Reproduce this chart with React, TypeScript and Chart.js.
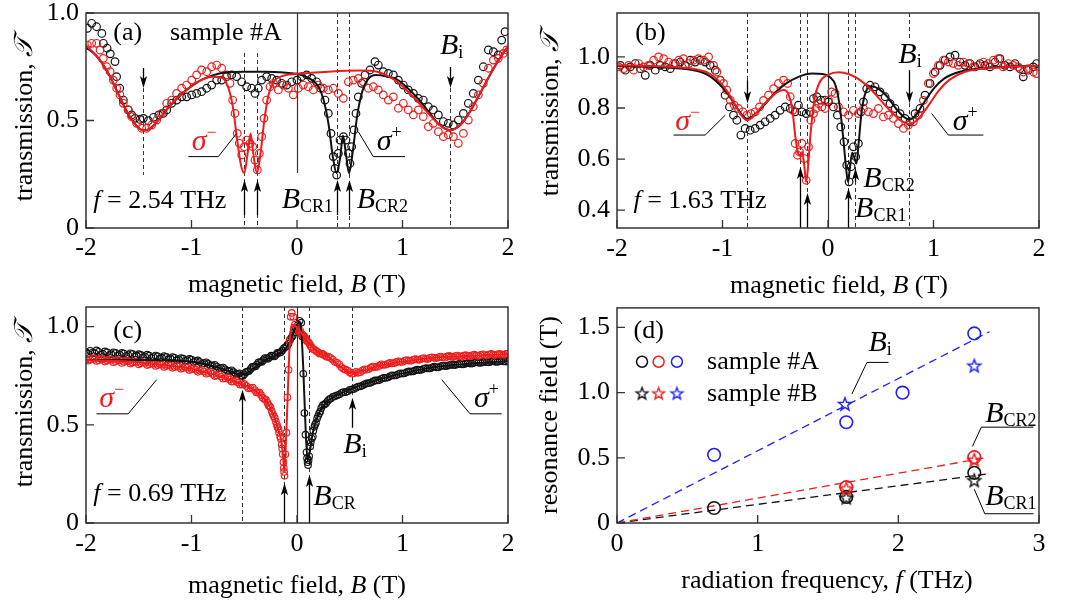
import React, { useEffect, useRef } from "react";
import { Chart, registerables } from "chart.js";

Chart.register(...registerables);

const FONT = "'Liberation Serif', 'Times New Roman', Times, serif";
const RED = "#ee1c1c";
const BLUE = "#1e1eff";
const BLACK = "#111111";
const FRAME = "#333333";

type Pt = [number, number];

// ---------- tick values ----------
const fieldTicks = [-2, -1, 0, 1, 2];
const transTicksA = [0, 0.5, 1.0];
const transTicksB = [0.4, 0.6, 0.8, 1.0];
const transTicksC = [0, 0.5, 1.0];
const freqTicks = [0, 1, 2, 3];
const resTicks = [0, 0.5, 1.0, 1.5];

// ---------- panel (a): f = 2.54 THz ----------
const aSigmaPlusData: Pt[] = [[-1.987,0.929],[-1.946,0.952],[-1.9,0.936],[-1.85,0.905],[-1.835,0.859],[-1.8,0.836],[-1.77,0.81],[-1.725,0.774],[-1.71,0.704],[-1.68,0.65],[-1.646,0.595],[-1.6,0.549],[-1.567,0.526],[-1.535,0.51],[-1.488,0.505],[-1.456,0.51],[-1.409,0.499],[-1.36,0.515],[-1.31,0.526],[-1.267,0.533],[-1.235,0.549],[-1.188,0.58],[-1.14,0.595],[-1.093,0.61],[-1.046,0.61],[-0.998,0.619],[-0.951,0.626],[-0.904,0.634],[-0.856,0.65],[-0.809,0.665],[-0.761,0.688],[-0.714,0.688],[-0.667,0.704],[-0.619,0.712],[-0.572,0.704],[-0.524,0.68],[-0.477,0.657],[-0.43,0.65],[-0.398,0.626],[-0.367,0.65],[-0.335,0.688],[-0.288,0.704],[-0.24,0.696],[-0.193,0.688],[-0.145,0.673],[-0.098,0.665],[-0.05,0.68],[0.0,0.688],[0.044,0.704],[0.092,0.712],[0.139,0.696],[0.186,0.68],[0.224,0.65],[0.265,0.595],[0.297,0.533],[0.322,0.44],[0.344,0.332],[0.36,0.277],[0.376,0.246],[0.392,0.347],[0.408,0.409],[0.44,0.425],[0.464,0.409],[0.487,0.347],[0.502,0.3],[0.518,0.378],[0.54,0.456],[0.559,0.533],[0.581,0.61],[0.613,0.673],[0.645,0.712],[0.692,0.735],[0.739,0.774],[0.771,0.758],[0.818,0.727],[0.866,0.719],[0.913,0.712],[0.961,0.688],[1.008,0.665],[1.055,0.642],[1.103,0.626],[1.15,0.603],[1.197,0.595],[1.245,0.564],[1.292,0.549],[1.34,0.526],[1.387,0.495],[1.434,0.487],[1.482,0.479],[1.529,0.502],[1.577,0.533],[1.624,0.58],[1.671,0.626],[1.719,0.688],[1.766,0.75],[1.814,0.828],[1.861,0.82],[1.908,0.805],[1.94,0.874],[1.972,0.913]];
const aSigmaMinusData: Pt[] = [[-1.987,0.851],[-1.946,0.859],[-1.9,0.859],[-1.867,0.828],[-1.836,0.789],[-1.804,0.75],[-1.772,0.727],[-1.741,0.688],[-1.709,0.65],[-1.678,0.619],[-1.646,0.58],[-1.599,0.549],[-1.567,0.518],[-1.52,0.487],[-1.472,0.464],[-1.425,0.464],[-1.378,0.479],[-1.33,0.502],[-1.283,0.533],[-1.235,0.58],[-1.188,0.595],[-1.141,0.626],[-1.093,0.65],[-1.046,0.665],[-0.998,0.688],[-0.951,0.712],[-0.904,0.735],[-0.856,0.727],[-0.809,0.75],[-0.761,0.758],[-0.714,0.743],[-0.667,0.712],[-0.635,0.673],[-0.61,0.595],[-0.588,0.533],[-0.566,0.44],[-0.547,0.394],[-0.524,0.34],[-0.499,0.378],[-0.477,0.409],[-0.445,0.394],[-0.42,0.378],[-0.398,0.316],[-0.376,0.27],[-0.357,0.347],[-0.335,0.425],[-0.313,0.51],[-0.288,0.595],[-0.256,0.657],[-0.224,0.673],[-0.177,0.642],[-0.13,0.665],[-0.082,0.65],[-0.035,0.619],[0.013,0.65],[0.06,0.665],[0.107,0.657],[0.155,0.642],[0.202,0.665],[0.25,0.65],[0.297,0.642],[0.344,0.65],[0.392,0.626],[0.439,0.603],[0.487,0.68],[0.534,0.688],[0.581,0.696],[0.629,0.68],[0.676,0.65],[0.724,0.657],[0.771,0.642],[0.818,0.619],[0.866,0.595],[0.913,0.61],[0.961,0.557],[1.008,0.58],[1.055,0.549],[1.103,0.526],[1.15,0.549],[1.197,0.518],[1.245,0.471],[1.292,0.487],[1.34,0.448],[1.387,0.425],[1.434,0.433],[1.482,0.425],[1.529,0.394],[1.577,0.44],[1.624,0.502],[1.671,0.564],[1.719,0.619],[1.766,0.673],[1.814,0.743],[1.861,0.781],[1.908,0.789],[1.956,0.812],[1.987,0.828]];
const aSigmaPlusFit: Pt[] = [[-2,0.84],[-1.9,0.8],[-1.8,0.73],[-1.7,0.63],[-1.6,0.53],[-1.5,0.465],[-1.46,0.455],[-1.4,0.46],[-1.3,0.51],[-1.2,0.57],[-1.1,0.62],[-1.0,0.66],[-0.9,0.69],[-0.8,0.71],[-0.7,0.722],[-0.5,0.727],[-0.3,0.727],[-0.1,0.722],[0,0.717],[0.1,0.7],[0.2,0.66],[0.25,0.6],[0.3,0.48],[0.34,0.33],[0.376,0.255],[0.41,0.33],[0.435,0.43],[0.465,0.34],[0.493,0.255],[0.53,0.36],[0.57,0.52],[0.61,0.62],[0.67,0.69],[0.75,0.712],[0.85,0.705],[0.95,0.69],[1.05,0.65],[1.15,0.6],[1.25,0.54],[1.35,0.48],[1.45,0.455],[1.55,0.48],[1.65,0.55],[1.75,0.64],[1.85,0.73],[1.95,0.81],[2.0,0.84]];
const aSigmaMinusFit: Pt[] = [[-2,0.85],[-1.9,0.8],[-1.8,0.73],[-1.7,0.63],[-1.6,0.53],[-1.5,0.465],[-1.46,0.455],[-1.4,0.46],[-1.3,0.51],[-1.2,0.57],[-1.1,0.62],[-1.0,0.66],[-0.9,0.69],[-0.8,0.703],[-0.72,0.7],[-0.66,0.665],[-0.61,0.57],[-0.57,0.42],[-0.53,0.29],[-0.5,0.255],[-0.47,0.34],[-0.44,0.44],[-0.41,0.33],[-0.38,0.255],[-0.35,0.33],[-0.31,0.5],[-0.27,0.62],[-0.22,0.68],[-0.15,0.705],[0,0.717],[0.3,0.727],[0.6,0.732],[0.75,0.728],[0.85,0.71],[0.95,0.68],[1.05,0.635],[1.15,0.585],[1.25,0.53],[1.35,0.48],[1.45,0.455],[1.55,0.48],[1.65,0.55],[1.75,0.64],[1.85,0.73],[1.95,0.81],[2.0,0.845]];

// ---------- panel (b): f = 1.63 THz ----------
const bSigmaPlusData: Pt[] = [[-1.968,0.967],[-1.921,0.948],[-1.874,0.961],[-1.827,0.974],[-1.779,0.954],[-1.732,0.928],[-1.685,0.967],[-1.637,0.948],[-1.59,0.967],[-1.543,0.961],[-1.495,0.954],[-1.448,0.974],[-1.401,0.98],[-1.353,0.967],[-1.306,0.987],[-1.259,0.98],[-1.211,0.987],[-1.164,0.98],[-1.117,0.967],[-1.069,0.948],[-1.022,0.909],[-0.975,0.85],[-0.934,0.804],[-0.896,0.772],[-0.864,0.752],[-0.826,0.694],[-0.785,0.72],[-0.738,0.713],[-0.69,0.72],[-0.643,0.733],[-0.596,0.746],[-0.548,0.759],[-0.501,0.772],[-0.454,0.791],[-0.406,0.804],[-0.359,0.798],[-0.312,0.785],[-0.28,0.811],[-0.249,0.785],[-0.207,0.778],[-0.17,0.785],[-0.138,0.837],[-0.106,0.844],[-0.069,0.831],[-0.028,0.831],[0.004,0.824],[0.051,0.804],[0.089,0.772],[0.121,0.726],[0.152,0.667],[0.178,0.576],[0.2,0.511],[0.219,0.57],[0.241,0.648],[0.263,0.609],[0.288,0.661],[0.313,0.785],[0.336,0.824],[0.367,0.876],[0.399,0.889],[0.446,0.883],[0.493,0.863],[0.541,0.844],[0.588,0.817],[0.635,0.798],[0.683,0.778],[0.73,0.759],[0.778,0.746],[0.825,0.778],[0.872,0.798],[0.92,0.85],[0.967,0.896],[1.015,0.941],[1.062,0.967],[1.109,0.987],[1.157,1.0],[1.204,1.007],[1.251,0.98],[1.299,0.967],[1.346,0.974],[1.393,0.961],[1.441,0.974],[1.488,0.967],[1.535,0.961],[1.583,0.98],[1.63,0.993],[1.677,0.967],[1.725,0.961],[1.772,0.974],[1.819,0.954],[1.851,0.922],[1.898,0.948],[1.946,0.961],[1.977,0.974]];
const bSigmaMinusData: Pt[] = [[-1.984,0.961],[-1.937,0.954],[-1.89,0.967],[-1.842,0.948],[-1.795,0.974],[-1.748,0.961],[-1.7,0.967],[-1.653,0.987],[-1.606,1.0],[-1.558,0.993],[-1.511,0.98],[-1.464,0.974],[-1.416,0.987],[-1.369,0.993],[-1.322,0.974],[-1.274,0.987],[-1.227,0.993],[-1.18,0.987],[-1.132,1.0],[-1.085,0.967],[-1.053,0.941],[-1.022,0.909],[-0.99,0.896],[-0.959,0.87],[-0.927,0.831],[-0.889,0.811],[-0.848,0.798],[-0.807,0.785],[-0.769,0.772],[-0.731,0.778],[-0.69,0.785],[-0.649,0.804],[-0.611,0.83],[-0.564,0.85],[-0.516,0.876],[-0.469,0.896],[-0.421,0.909],[-0.383,0.896],[-0.358,0.844],[-0.333,0.791],[-0.311,0.661],[-0.289,0.615],[-0.27,0.628],[-0.248,0.661],[-0.226,0.602],[-0.207,0.517],[-0.185,0.648],[-0.163,0.752],[-0.138,0.778],[-0.113,0.798],[-0.088,0.817],[-0.059,0.804],[-0.028,0.798],[0.004,0.831],[0.035,0.863],[0.067,0.857],[0.099,0.804],[0.146,0.785],[0.194,0.772],[0.241,0.791],[0.288,0.778],[0.336,0.798],[0.383,0.785],[0.431,0.778],[0.478,0.798],[0.525,0.765],[0.573,0.772],[0.62,0.759],[0.667,0.739],[0.715,0.72],[0.762,0.733],[0.809,0.746],[0.857,0.772],[0.904,0.83],[0.951,0.896],[0.999,0.935],[1.046,0.967],[1.093,0.987],[1.141,0.98],[1.188,0.974],[1.235,0.967],[1.283,0.98],[1.33,0.974],[1.377,0.961],[1.425,0.967],[1.472,0.98],[1.519,0.974],[1.567,0.987],[1.614,0.993],[1.661,0.961],[1.709,0.974],[1.756,0.967],[1.803,0.961],[1.851,0.941],[1.898,0.954],[1.946,0.941],[1.977,0.935]];
const bSigmaPlusFit: Pt[] = [[-2,0.965],[-1.6,0.96],[-1.3,0.95],[-1.15,0.932],[-1.05,0.902],[-0.95,0.855],[-0.87,0.805],[-0.81,0.77],[-0.77,0.758],[-0.72,0.765],[-0.62,0.805],[-0.5,0.86],[-0.4,0.895],[-0.28,0.922],[-0.15,0.935],[-0.05,0.933],[0.02,0.92],[0.07,0.89],[0.11,0.81],[0.145,0.68],[0.17,0.57],[0.19,0.51],[0.21,0.575],[0.23,0.625],[0.25,0.605],[0.27,0.583],[0.29,0.66],[0.32,0.79],[0.36,0.865],[0.41,0.885],[0.48,0.875],[0.56,0.845],[0.65,0.795],[0.72,0.765],[0.77,0.755],[0.83,0.77],[0.9,0.815],[1.0,0.875],[1.1,0.915],[1.25,0.942],[1.5,0.957],[2.0,0.965]];
const bSigmaMinusFit: Pt[] = [[-2,0.967],[-1.6,0.963],[-1.3,0.955],[-1.15,0.94],[-1.05,0.912],[-0.95,0.862],[-0.87,0.805],[-0.81,0.765],[-0.77,0.752],[-0.72,0.762],[-0.65,0.795],[-0.55,0.838],[-0.48,0.862],[-0.42,0.87],[-0.38,0.858],[-0.34,0.8],[-0.31,0.69],[-0.285,0.625],[-0.265,0.613],[-0.245,0.628],[-0.225,0.575],[-0.207,0.51],[-0.19,0.565],[-0.165,0.7],[-0.13,0.83],[-0.08,0.9],[0,0.93],[0.1,0.94],[0.2,0.932],[0.3,0.91],[0.4,0.875],[0.5,0.83],[0.6,0.785],[0.7,0.748],[0.77,0.737],[0.85,0.755],[0.95,0.808],[1.05,0.868],[1.15,0.91],[1.3,0.942],[1.6,0.958],[2.0,0.965]];

// ---------- panel (c): f = 0.69 THz ----------
const cSigmaPlusData: Pt[] = [[-2,0.87],[-1.96,0.877],[-1.92,0.865],[-1.88,0.872],[-1.84,0.862],[-1.8,0.869],[-1.76,0.86],[-1.72,0.866],[-1.68,0.857],[-1.64,0.863],[-1.6,0.855],[-1.56,0.861],[-1.52,0.852],[-1.48,0.856],[-1.44,0.848],[-1.4,0.853],[-1.36,0.845],[-1.32,0.849],[-1.28,0.842],[-1.24,0.846],[-1.2,0.838],[-1.16,0.841],[-1.12,0.834],[-1.08,0.837],[-1.04,0.829],[-1.0,0.832],[-0.96,0.824],[-0.92,0.82],[-0.88,0.814],[-0.84,0.81],[-0.8,0.802],[-0.76,0.797],[-0.72,0.789],[-0.68,0.783],[-0.64,0.774],[-0.6,0.768],[-0.56,0.759],[-0.53,0.75],[-0.5,0.757],[-0.47,0.771],[-0.44,0.784],[-0.41,0.796],[-0.38,0.807],[-0.35,0.82],[-0.32,0.829],[-0.29,0.839],[-0.26,0.844],[-0.23,0.851],[-0.2,0.857],[-0.17,0.866],[-0.14,0.879],[-0.11,0.896],[-0.08,0.914],[-0.05,0.946],[-0.03,0.969],[-0.01,0.991],[0.01,1.01],[0.025,1.03],[0.04,1.02],[0.05,0.95],[0.06,0.76],[0.07,0.56],[0.08,0.45],[0.09,0.36],[0.1,0.31],[0.105,0.295],[0.115,0.34],[0.125,0.39],[0.14,0.43],[0.155,0.47],[0.17,0.5],[0.19,0.532],[0.21,0.558],[0.23,0.586],[0.26,0.604],[0.29,0.621],[0.32,0.634],[0.36,0.646],[0.4,0.654],[0.44,0.666],[0.48,0.671],[0.52,0.68],[0.56,0.689],[0.6,0.696],[0.64,0.706],[0.68,0.712],[0.72,0.721],[0.76,0.726],[0.8,0.734],[0.84,0.739],[0.88,0.747],[0.92,0.751],[0.96,0.758],[1.0,0.761],[1.04,0.768],[1.08,0.771],[1.12,0.777],[1.16,0.779],[1.2,0.785],[1.24,0.787],[1.28,0.792],[1.32,0.793],[1.36,0.798],[1.4,0.799],[1.44,0.803],[1.48,0.804],[1.52,0.808],[1.56,0.808],[1.6,0.812],[1.64,0.812],[1.68,0.816],[1.72,0.816],[1.76,0.819],[1.8,0.819],[1.84,0.822],[1.88,0.821],[1.92,0.824],[1.96,0.823],[2.0,0.826],
  [-1.98,0.862],[-1.94,0.868],[-1.9,0.879],[-1.86,0.858],[-1.82,0.874],[-1.78,0.855],[-1.74,0.869],[-1.7,0.852],[-1.66,0.866],[-1.62,0.85],[-1.58,0.864],[-1.54,0.847],[-1.5,0.86],[-1.46,0.844],[-1.42,0.857],[-1.38,0.84],[-1.34,0.853],[-1.3,0.837],[-1.26,0.85],[-1.22,0.833],[-1.18,0.845],[-1.14,0.829],[-1.1,0.84],[-1.06,0.826],[-1.02,0.836],[-0.98,0.82],[-0.94,0.828],[-0.9,0.811],[-0.86,0.818],[-0.82,0.801],[-0.78,0.806],[-0.74,0.788],[-0.7,0.792],[-0.66,0.775],[-0.62,0.778],[-0.58,0.76],[-0.545,0.762],[-0.515,0.748],[-0.485,0.768],[-0.455,0.774],[-0.425,0.795],[-0.395,0.797],[-0.365,0.818],[-0.335,0.82],[-0.305,0.84],[-0.275,0.836],[-0.245,0.852],[-0.215,0.848],[-0.185,0.866],[-0.155,0.87],[-0.125,0.89],[-0.095,0.9],[-0.065,0.935],[-0.04,0.955],
  [0.095,0.33],[0.11,0.32],[0.13,0.41],[0.15,0.44],[0.165,0.49],[0.18,0.51],[0.2,0.545],[0.22,0.568],[0.245,0.6],[0.275,0.61],[0.305,0.63],[0.34,0.642],[0.38,0.65],[0.42,0.662],[0.46,0.666],[0.5,0.678],[0.54,0.682],[0.58,0.695],[0.62,0.7],[0.66,0.711],[0.7,0.715],[0.74,0.726],[0.78,0.728],[0.82,0.739],[0.86,0.741],[0.9,0.752],[0.94,0.752],[0.98,0.762],[1.02,0.762],[1.06,0.772],[1.1,0.772],[1.14,0.781],[1.18,0.78],[1.22,0.789],[1.26,0.787],[1.3,0.796],[1.34,0.793],[1.38,0.802],[1.42,0.799],[1.46,0.807],[1.5,0.804],[1.54,0.811],[1.58,0.808],[1.62,0.815],[1.66,0.812],[1.7,0.819],[1.74,0.815],[1.78,0.822],[1.82,0.818],[1.86,0.825],[1.9,0.82],[1.94,0.827],[1.98,0.822]];
const cSigmaMinusData: Pt[] = [[-2,0.835],[-1.96,0.831],[-1.92,0.837],[-1.88,0.829],[-1.84,0.834],[-1.8,0.827],[-1.76,0.831],[-1.72,0.824],[-1.68,0.828],[-1.64,0.821],[-1.6,0.824],[-1.56,0.817],[-1.52,0.82],[-1.48,0.813],[-1.44,0.816],[-1.4,0.809],[-1.36,0.811],[-1.32,0.804],[-1.28,0.806],[-1.24,0.799],[-1.2,0.801],[-1.16,0.794],[-1.12,0.796],[-1.08,0.789],[-1.04,0.791],[-1.0,0.784],[-0.96,0.781],[-0.92,0.775],[-0.88,0.771],[-0.84,0.764],[-0.8,0.759],[-0.76,0.751],[-0.72,0.746],[-0.68,0.737],[-0.64,0.731],[-0.6,0.721],[-0.56,0.715],[-0.52,0.705],[-0.48,0.698],[-0.44,0.687],[-0.4,0.677],[-0.37,0.664],[-0.34,0.651],[-0.31,0.631],[-0.28,0.613],[-0.26,0.594],[-0.24,0.571],[-0.22,0.544],[-0.2,0.516],[-0.185,0.489],[-0.17,0.461],[-0.155,0.43],[-0.145,0.4],[-0.135,0.35],[-0.128,0.31],[-0.122,0.26],[-0.118,0.24],[-0.11,0.35],[-0.1,0.46],[-0.09,0.64],[-0.08,0.78],[-0.07,0.93],[-0.06,1.05],[-0.05,1.07],[-0.035,1.05],[-0.02,1.01],[0,0.995],[0.02,0.975],[0.04,0.966],[0.06,0.954],[0.08,0.941],[0.1,0.924],[0.12,0.911],[0.14,0.894],[0.17,0.881],[0.2,0.869],[0.23,0.863],[0.26,0.854],[0.3,0.846],[0.34,0.831],[0.38,0.816],[0.42,0.794],[0.46,0.781],[0.5,0.767],[0.54,0.763],[0.58,0.765],[0.62,0.776],[0.66,0.781],[0.7,0.791],[0.74,0.794],[0.78,0.801],[0.82,0.805],[0.86,0.811],[0.9,0.813],[0.94,0.819],[0.98,0.821],[1.02,0.826],[1.06,0.827],[1.1,0.831],[1.14,0.832],[1.18,0.836],[1.22,0.836],[1.26,0.841],[1.3,0.841],[1.34,0.844],[1.38,0.844],[1.42,0.847],[1.46,0.847],[1.5,0.85],[1.54,0.849],[1.58,0.852],[1.62,0.851],[1.66,0.854],[1.7,0.853],[1.74,0.856],[1.78,0.855],[1.82,0.858],[1.86,0.857],[1.9,0.859],[1.94,0.858],[1.98,0.861],
  [-1.98,0.827],[-1.94,0.84],[-1.9,0.825],[-1.86,0.837],[-1.82,0.822],[-1.78,0.834],[-1.74,0.819],[-1.7,0.83],[-1.66,0.815],[-1.62,0.827],[-1.58,0.812],[-1.54,0.823],[-1.5,0.808],[-1.46,0.819],[-1.42,0.804],[-1.38,0.814],[-1.34,0.8],[-1.3,0.81],[-1.26,0.795],[-1.22,0.805],[-1.18,0.79],[-1.14,0.8],[-1.1,0.785],[-1.06,0.794],[-1.02,0.779],[-0.98,0.787],[-0.94,0.77],[-0.9,0.78],[-0.86,0.76],[-0.82,0.77],[-0.78,0.748],[-0.74,0.757],[-0.7,0.735],[-0.66,0.742],[-0.62,0.72],[-0.58,0.726],[-0.54,0.704],[-0.5,0.708],[-0.46,0.686],[-0.42,0.689],[-0.385,0.665],[-0.355,0.664],[-0.325,0.638],[-0.295,0.627],[-0.27,0.6],[-0.25,0.588],[-0.23,0.555],[-0.21,0.534],[-0.19,0.5],[-0.175,0.478],[-0.16,0.44],[-0.14,0.38],[-0.125,0.28],
  [0.01,0.985],[0.03,0.98],[0.05,0.96],[0.07,0.95],[0.09,0.93],[0.11,0.92],[0.13,0.9],[0.155,0.885],[0.185,0.875],[0.215,0.862],[0.245,0.86],[0.28,0.847],[0.32,0.84],[0.36,0.82],[0.4,0.808],[0.44,0.785],[0.48,0.776],[0.52,0.76],[0.56,0.77],[0.6,0.768],[0.64,0.783],[0.68,0.784],[0.72,0.797],[0.76,0.795],[0.8,0.808],[0.84,0.806],[0.88,0.816],[0.92,0.814],[0.96,0.823],[1.0,0.82],[1.04,0.83],[1.08,0.826],[1.12,0.835],[1.16,0.831],[1.2,0.84],[1.24,0.835],[1.28,0.844],[1.32,0.839],[1.36,0.848],[1.4,0.842],[1.44,0.851],[1.48,0.845],[1.52,0.853],[1.56,0.847],[1.6,0.855],[1.64,0.849],[1.68,0.857],[1.72,0.851],[1.76,0.859],[1.8,0.853],[1.84,0.861],[1.88,0.855],[1.92,0.862],[1.96,0.856],[2.0,0.863]];
const cSigmaPlusFit: Pt[] = [[-2,0.83],[-1.6,0.83],[-1.2,0.828],[-1.0,0.822],[-0.8,0.8],[-0.65,0.775],[-0.55,0.758],[-0.5,0.758],[-0.4,0.79],[-0.3,0.83],[-0.2,0.855],[-0.12,0.88],[-0.06,0.93],[-0.02,0.99],[0.02,1.02],[0.04,0.98],[0.06,0.78],[0.08,0.5],[0.1,0.32],[0.12,0.36],[0.15,0.46],[0.2,0.55],[0.3,0.625],[0.45,0.668],[0.6,0.7],[0.8,0.735],[1.0,0.762],[1.3,0.793],[1.6,0.81],[2.0,0.825]];
const cSigmaMinusFit: Pt[] = [[-2,0.83],[-1.6,0.822],[-1.2,0.8],[-1.0,0.786],[-0.8,0.758],[-0.6,0.722],[-0.45,0.69],[-0.35,0.655],[-0.28,0.612],[-0.22,0.545],[-0.18,0.48],[-0.15,0.42],[-0.13,0.33],[-0.12,0.26],[-0.11,0.34],[-0.09,0.62],[-0.07,0.9],[-0.055,1.0],[-0.04,1.01],[0,0.995],[0.05,0.96],[0.12,0.91],[0.2,0.87],[0.3,0.845],[0.4,0.8],[0.5,0.768],[0.55,0.764],[0.65,0.78],[0.8,0.803],[1.0,0.823],[1.3,0.842],[1.6,0.85],[2.0,0.86]];

// ---------- panel (d): resonance positions ----------
const sampleA_BCR1: Pt[] = [[0.69,0.115],[1.63,0.2],[2.54,0.385]];
const sampleA_BCR2: Pt[] = [[1.63,0.275],[2.54,0.505]];
const sampleA_Bi: Pt[] = [[0.69,0.523],[1.63,0.773],[2.03,1.0],[2.54,1.454]];
const sampleB_BCR1: Pt[] = [[1.63,0.195],[2.54,0.327]];
const sampleB_BCR2: Pt[] = [[1.63,0.265],[2.54,0.485]];
const sampleB_Bi: Pt[] = [[1.62,0.913],[2.54,1.207]];
const trendBi: Pt[] = [[0,0],[2.648,1.467]];
const trendBCR2: Pt[] = [[0,0],[2.62,0.5]];
const trendBCR1: Pt[] = [[0,0],[2.648,0.378]];

// ---------- text helpers ----------
type Run = { t: string; i?: boolean; s?: number; dy?: number; c?: string };
const T = (t: string): Run => ({ t });
const I = (t: string, s?: number): Run => ({ t, i: true, s });
const SUB = (t: string): Run => ({ t, s: 18, dy: 4 });
const SUP = (t: string): Run => ({ t, s: 18, dy: -12 });
const Bsym = (): Run => ({ t: "B", i: true, s: 30 });
const Sig = (): Run => ({ t: "σ", i: true, s: 30 });

function fontOf(r: Run, base: number) {
  return `${r.i ? "italic " : ""}${r.s ?? base}px ${FONT}`;
}

function drawRuns(ctx: CanvasRenderingContext2D, runs: Run[], x: number, y: number, base: number, color: string, align = "left", rot = 0) {
  ctx.save();
  ctx.translate(x, y);
  if (rot) ctx.rotate(rot);
  ctx.textBaseline = "alphabetic";
  ctx.textAlign = "left";
  const widths = runs.map((r) => {
    ctx.font = fontOf(r, base);
    return ctx.measureText(r.t).width;
  });
  const total = widths.reduce((a, b) => a + b, 0);
  let cx = align === "center" ? -total / 2 : align === "right" ? -total : 0;
  runs.forEach((r, k) => {
    ctx.font = fontOf(r, base);
    ctx.fillStyle = r.c || color;
    ctx.fillText(r.t, cx, r.dy || 0);
    cx += widths[k];
  });
  ctx.restore();
}

function makeStar(color: string, r: number) {
  const c = document.createElement("canvas");
  const s = Math.ceil(2 * r + 4);
  c.width = s;
  c.height = s;
  const g = c.getContext("2d")!;
  g.translate(s / 2, s / 2 + r * 0.08);
  g.beginPath();
  for (let k = 0; k < 10; k++) {
    const ang = -Math.PI / 2 + (k * Math.PI) / 5;
    const rr = k % 2 === 0 ? r : r * 0.42;
    g.lineTo(rr * Math.cos(ang), rr * Math.sin(ang));
  }
  g.closePath();
  g.strokeStyle = color;
  g.lineWidth = 1.4;
  g.lineJoin = "miter";
  g.stroke();
  return c;
}

const xy = (a: Pt[]) => a.map(([x, y]) => ({ x, y }));

function scatterSet(data: Pt[], color: string, r = 3.8, bw = 1.2) {
  return {
    data: xy(data),
    showLine: false,
    pointStyle: "circle",
    pointRadius: r,
    borderColor: color,
    backgroundColor: "rgba(0,0,0,0)",
    borderWidth: bw,
  };
}
function fitSet(data: Pt[], color: string, w = 2) {
  return {
    data: xy(data),
    showLine: true,
    pointRadius: 0,
    borderColor: color,
    backgroundColor: color,
    borderWidth: w,
    cubicInterpolationMode: "monotone",
    fill: false,
  };
}

type VLine = { x: number; y0: number; y1: number };
type Arrow = { x: number; from: number; to: number };
type Label = { x: number; y: number; runs: Run[]; color?: string; size?: number };
type Marker = { x: number; y: number; kind: "circle" | "star"; color: string };

interface PanelCfg {
  left: number; top: number; w: number; h: number;
  area: { l: number; r: number; t: number; b: number };
  xMin: number; xMax: number; yMin: number; yMax: number;
  xTicks: number[]; yTicks: number[];
  xLabelY: number;
  yTitle: Run[]; yTitleX: number; yTitleY: number;
  xTitle: Run[]; xTitleX: number; xTitleY: number;
  datasets: () => any[];
  dashed: VLine[]; solid: VLine[]; arrows: Arrow[];
  callouts: Pt[][]; labels: Label[]; markers?: Marker[];
}

const fmtX = (v: number) => String(v);
const fmtY = (v: number) => (v === 0 ? "0" : v.toFixed(1));

function decorPlugin(cfg: PanelCfg, stars: Record<string, HTMLCanvasElement>) {
  return {
    id: "decor",
    beforeDatasetsDraw(chart: any) {
      const { ctx, chartArea: a, scales } = chart;
      const xs = scales.x, ys = scales.y;
      ctx.save();
      ctx.beginPath();
      ctx.rect(a.left, a.top, a.right - a.left, a.bottom - a.top);
      ctx.clip();
      ctx.strokeStyle = "#333";
      ctx.lineWidth = 1;
      ctx.setLineDash([4, 3]);
      for (const d of cfg.dashed) {
        const px = Math.round(xs.getPixelForValue(d.x)) + 0.5;
        ctx.beginPath();
        ctx.moveTo(px, ys.getPixelForValue(d.y0));
        ctx.lineTo(px, ys.getPixelForValue(d.y1));
        ctx.stroke();
      }
      ctx.setLineDash([]);
      ctx.lineWidth = 1.2;
      for (const d of cfg.solid) {
        const px = Math.round(xs.getPixelForValue(d.x)) + 0.5;
        ctx.beginPath();
        ctx.moveTo(px, ys.getPixelForValue(d.y0));
        ctx.lineTo(px, ys.getPixelForValue(d.y1));
        ctx.stroke();
      }
      ctx.restore();
    },
    afterDatasetsDraw(chart: any) {
      const { ctx, chartArea: a, scales } = chart;
      const xs = scales.x, ys = scales.y;
      ctx.save();
      ctx.strokeStyle = "#000";
      ctx.fillStyle = "#000";
      ctx.lineWidth = 1.3;
      for (const ar of cfg.arrows) {
        const px = Math.round(xs.getPixelForValue(ar.x)) + 0.5;
        const y0 = ys.getPixelForValue(ar.from);
        const y1 = ys.getPixelForValue(ar.to);
        const dir = Math.sign(y1 - y0);
        ctx.beginPath();
        ctx.moveTo(px, y0);
        ctx.lineTo(px, y1 - dir * 8);
        ctx.stroke();
        ctx.beginPath();
        ctx.moveTo(px, y1);
        ctx.lineTo(px - 3.6, y1 - dir * 12);
        ctx.lineTo(px, y1 - dir * 9);
        ctx.lineTo(px + 3.6, y1 - dir * 12);
        ctx.closePath();
        ctx.fill();
      }
      ctx.lineWidth = 1;
      for (const c of cfg.callouts) {
        ctx.beginPath();
        c.forEach(([x, y], k) => {
          const px = xs.getPixelForValue(x), py = ys.getPixelForValue(y);
          if (k === 0) ctx.moveTo(px, py);
          else ctx.lineTo(px, py);
        });
        ctx.stroke();
      }
      ctx.strokeStyle = FRAME;
      ctx.lineWidth = 1.5;
      ctx.strokeRect(a.left, a.top, a.right - a.left, a.bottom - a.top);
      ctx.lineWidth = 1.3;
      ctx.beginPath();
      for (const t of xs.ticks) {
        const px = xs.getPixelForValue(t.value);
        ctx.moveTo(px, a.bottom);
        ctx.lineTo(px, a.bottom - 8);
      }
      for (const t of ys.ticks) {
        const py = ys.getPixelForValue(t.value);
        ctx.moveTo(a.left, py);
        ctx.lineTo(a.left + 8, py);
      }
      ctx.stroke();
      ctx.fillStyle = "#000";
      ctx.font = `26px ${FONT}`;
      ctx.textBaseline = "middle";
      ctx.textAlign = "center";
      for (const t of xs.ticks) ctx.fillText(fmtX(t.value), xs.getPixelForValue(t.value), cfg.xLabelY);
      ctx.textAlign = "right";
      for (const t of ys.ticks) ctx.fillText(fmtY(t.value), a.left - 7, ys.getPixelForValue(t.value));
      drawRuns(ctx, cfg.xTitle, cfg.xTitleX, cfg.xTitleY, 26, "#000", "center");
      drawRuns(ctx, cfg.yTitle, cfg.yTitleX, cfg.yTitleY, 26, "#000", "center", -Math.PI / 2);
      for (const lb of cfg.labels) {
        drawRuns(ctx, lb.runs, xs.getPixelForValue(lb.x), ys.getPixelForValue(lb.y), lb.size ?? 26, lb.color ?? "#000");
      }
      for (const m of cfg.markers || []) {
        const px = xs.getPixelForValue(m.x), py = ys.getPixelForValue(m.y);
        if (m.kind === "circle") {
          ctx.strokeStyle = m.color;
          ctx.lineWidth = 1.5;
          ctx.beginPath();
          ctx.arc(px, py, 5.5, 0, Math.PI * 2);
          ctx.stroke();
        } else {
          const img = stars[m.color + "_s"];
          ctx.drawImage(img, px - img.width / 2, py - img.height / 2);
        }
      }
      ctx.restore();
    },
  };
}

const yTitleTrans: Run[] = [T("transmission, "), I("𝒯")];
const xTitleField: Run[] = [T("magnetic field, "), I("B"), T(" (T)")];

const panels: PanelCfg[] = [
  {
    left: 0, top: 0, w: 535, h: 300,
    area: { l: 86, r: 508, t: 13, b: 228 },
    xMin: -2, xMax: 2, yMin: 0, yMax: 1.0,
    xTicks: fieldTicks, yTicks: transTicksA, xLabelY: 248,
    yTitle: yTitleTrans, yTitleX: 32, yTitleY: 119,
    xTitle: xTitleField, xTitleX: 297, xTitleY: 292,
    datasets: () => [
      fitSet(aSigmaMinusFit, RED),
      fitSet(aSigmaPlusFit, BLACK),
      scatterSet(aSigmaMinusData, RED),
      scatterSet(aSigmaPlusData, BLACK),
    ],
    dashed: [
      { x: -1.457, y0: 0.651, y1: 0.247 }, { x: 1.45, y0: 0.651, y1: 0 },
      { x: -0.5, y0: 0.814, y1: 0 }, { x: -0.38, y0: 0.814, y1: 0 },
      { x: 0.376, y0: 1, y1: 0 }, { x: 0.493, y0: 1, y1: 0 },
    ],
    solid: [{ x: 0, y0: 1, y1: 0.256 }],
    arrows: [
      { x: -1.457, from: 0.744, to: 0.651 }, { x: 1.45, from: 0.749, to: 0.651 },
      { x: -0.5, from: 0.06, to: 0.223 }, { x: -0.38, from: 0.06, to: 0.223 },
      { x: 0.376, from: 0.06, to: 0.223 }, { x: 0.493, from: 0.06, to: 0.223 },
    ],
    callouts: [
      [[-1.03, 0.332], [-0.746, 0.332], [-0.572, 0.44]],
      [[1.024, 0.332], [0.723, 0.332], [0.581, 0.448]],
    ],
    labels: [
      { x: -1.741, y: 0.874, runs: [T("(a)")] },
      { x: -1.204, y: 0.874, runs: [T("sample #A")] },
      { x: 1.355, y: 0.808, runs: [Bsym(), SUB("i")] },
      { x: -0.998, y: 0.363, runs: [Sig(), SUP("−")], color: RED },
      { x: 0.755, y: 0.363, runs: [Sig(), SUP("+")] },
      { x: -1.931, y: 0.091, runs: [I("f"), T(" = 2.54 THz")] },
      { x: -0.145, y: 0.091, runs: [Bsym(), SUB("CR1")] },
      { x: 0.566, y: 0.091, runs: [Bsym(), SUB("CR2")] },
    ],
  },
  {
    left: 535, top: 0, w: 535, h: 300,
    area: { l: 82, r: 504, t: 13, b: 228 },
    xMin: -2, xMax: 2, yMin: 0.33, yMax: 1.172,
    xTicks: fieldTicks, yTicks: transTicksB, xLabelY: 249,
    yTitle: yTitleTrans, yTitleX: 23, yTitleY: 114,
    xTitle: xTitleField, xTitleX: 304, xTitleY: 293,
    datasets: () => [
      fitSet(bSigmaMinusFit, RED),
      fitSet(bSigmaPlusFit, BLACK),
      scatterSet(bSigmaMinusData, RED),
      scatterSet(bSigmaPlusData, BLACK),
    ],
    dashed: [
      { x: -0.77, y0: 1.172, y1: 0.33 }, { x: -0.27, y0: 1.172, y1: 0.33 },
      { x: -0.2, y0: 1.172, y1: 0.33 }, { x: 0.19, y0: 1.172, y1: 0.33 },
      { x: 0.26, y0: 1.172, y1: 0.33 }, { x: 0.77, y0: 1.172, y1: 1.065 },
      { x: 0.77, y0: 0.819, y1: 0.33 },
    ],
    solid: [{ x: 0, y0: 1.172, y1: 0.33 }],
    arrows: [
      { x: -0.77, from: 0.909, to: 0.819 }, { x: 0.77, from: 0.948, to: 0.819 },
      { x: -0.27, from: 0.33, to: 0.569 }, { x: -0.2, from: 0.33, to: 0.467 },
      { x: 0.19, from: 0.33, to: 0.486 }, { x: 0.26, from: 0.511, to: 0.564 },
    ],
    callouts: [
      [[-1.464, 0.694], [-1.164, 0.694], [-0.974, 0.772]],
      [[1.472, 0.694], [1.14, 0.694], [0.983, 0.778]],
    ],
    labels: [
      { x: -1.827, y: 1.065, runs: [T("(b)")] },
      { x: 0.667, y: 0.977, runs: [Bsym(), SUB("i")] },
      { x: -1.448, y: 0.713, runs: [Sig(), SUP("−")], color: RED },
      { x: 1.182, y: 0.713, runs: [Sig(), SUP("+")] },
      { x: 0.335, y: 0.491, runs: [Bsym(), SUB("CR2")] },
      { x: 0.257, y: 0.374, runs: [Bsym(), SUB("CR1")] },
      { x: -1.844, y: 0.407, runs: [I("f"), T(" = 1.63 THz")] },
    ],
  },
  {
    left: 0, top: 300, w: 535, h: 308,
    area: { l: 86, r: 508, t: 7, b: 223 },
    xMin: -2, xMax: 2, yMin: 0, yMax: 1.1,
    xTicks: fieldTicks, yTicks: transTicksC, xLabelY: 244,
    yTitle: yTitleTrans, yTitleX: 32, yTitleY: 105,
    xTitle: xTitleField, xTitleX: 297, xTitleY: 293,
    datasets: () => [
      fitSet(cSigmaMinusFit, RED),
      fitSet(cSigmaPlusFit, BLACK),
      scatterSet(cSigmaMinusData, RED, 3.3, 1.1),
      scatterSet(cSigmaPlusData, BLACK, 3.3, 1.1),
    ],
    dashed: [
      { x: -0.52, y0: 1.1, y1: 0 }, { x: -0.12, y0: 1.1, y1: 0 },
      { x: 0.117, y0: 1.1, y1: 0 }, { x: 0.52, y0: 1.1, y1: 0.638 },
    ],
    solid: [{ x: 0, y0: 1.1, y1: 0 }],
    arrows: [
      { x: -0.52, from: 0.5, to: 0.679 }, { x: -0.12, from: 0.0, to: 0.203 },
      { x: 0.117, from: 0.0, to: 0.244 }, { x: 0.52, from: 0.485, to: 0.638 },
    ],
    callouts: [
      [[-1.9, 0.556], [-1.6, 0.556], [-1.33, 0.73]],
      [[1.94, 0.556], [1.64, 0.556], [1.372, 0.73]],
    ],
    labels: [
      { x: -1.741, y: 0.944, runs: [T("(c)")] },
      { x: -1.874, y: 0.59, runs: [Sig(), SUP("−")], color: RED },
      { x: 1.678, y: 0.59, runs: [Sig(), SUP("+")] },
      { x: 0.439, y: 0.355, runs: [Bsym(), SUB("i")] },
      { x: 0.155, y: 0.091, runs: [Bsym(), SUB("CR")] },
      { x: -1.931, y: 0.114, runs: [I("f"), T(" = 0.69 THz")] },
    ],
  },
  {
    left: 535, top: 300, w: 535, h: 308,
    area: { l: 82, r: 504, t: 7, b: 223 },
    xMin: 0, xMax: 3, yMin: 0, yMax: 1.65,
    xTicks: freqTicks, yTicks: resTicks, xLabelY: 244,
    yTitle: [T("resonance field (T)")], yTitleX: 22, yTitleY: 115,
    xTitle: [T("radiation frequency, "), I("f"), T(" (THz)")], xTitleX: 292, xTitleY: 288,
    datasets: () => [],
    dashed: [], solid: [], arrows: [],
    callouts: [
      [[1.93, 1.232], [1.777, 1.232], [1.67, 0.99]],
      [[2.961, 0.735], [2.59, 0.735], [2.527, 0.588]],
      [[2.961, 0.071], [2.615, 0.071], [2.54, 0.259]],
    ],
    labels: [
      { x: 0.118, y: 1.418, runs: [T("(d)")] },
      { x: 1.788, y: 1.321, runs: [Bsym(), SUB("i")] },
      { x: 2.618, y: 0.773, runs: [Bsym(), SUB("CR2")] },
      { x: 2.618, y: 0.135, runs: [Bsym(), SUB("CR1")] },
      { x: 0.64, y: 1.181, runs: [T("sample #A")] },
      { x: 0.64, y: 0.939, runs: [T("sample #B")] },
    ],
    markers: [
      { x: 0.178, y: 1.237, kind: "circle", color: BLACK },
      { x: 0.296, y: 1.237, kind: "circle", color: RED },
      { x: 0.426, y: 1.237, kind: "circle", color: BLUE },
      { x: 0.178, y: 0.995, kind: "star", color: BLACK },
      { x: 0.296, y: 0.995, kind: "star", color: RED },
      { x: 0.426, y: 0.995, kind: "star", color: BLUE },
    ],
  },
];

function dDatasets(stars: Record<string, HTMLCanvasElement>) {
  const dash = (d: Pt[], c: string) => ({
    data: xy(d), showLine: true, pointRadius: 0, borderColor: c, borderWidth: 1.3, borderDash: [8, 5], fill: false,
  });
  const circ = (d: Pt[], c: string) => ({
    data: xy(d), showLine: false, pointStyle: "circle", pointRadius: 6.3, borderColor: c, backgroundColor: "rgba(0,0,0,0)", borderWidth: 1.6,
  });
  const star = (d: Pt[], c: string) => ({
    data: xy(d), showLine: false, pointStyle: stars[c], pointRadius: 6, borderColor: c, backgroundColor: "rgba(0,0,0,0)",
  });
  return [
    star(sampleB_Bi, BLUE), star(sampleB_BCR2, RED), star(sampleB_BCR1, BLACK),
    circ(sampleA_Bi, BLUE), circ(sampleA_BCR2, RED), circ(sampleA_BCR1, BLACK),
    dash(trendBi, BLUE), dash(trendBCR2, RED), dash(trendBCR1, BLACK),
  ];
}

function Panel({ cfg, idx }: { cfg: PanelCfg; idx: number }) {
  const ref = useRef<HTMLCanvasElement>(null);
  useEffect(() => {
    const stars: Record<string, HTMLCanvasElement> = {};
    for (const c of [BLACK, RED, BLUE]) {
      stars[c] = makeStar(c, 6.8);
      stars[c + "_s"] = makeStar(c, 6.2);
    }
    const datasets = idx === 3 ? dDatasets(stars) : cfg.datasets();
    const chart = new Chart(ref.current!, {
      type: "scatter",
      data: { datasets },
      options: {
        responsive: false,
        animation: false,
        events: [],
        layout: { padding: { left: cfg.area.l, top: cfg.area.t, right: cfg.w - cfg.area.r, bottom: cfg.h - cfg.area.b } },
        plugins: { legend: { display: false }, tooltip: { enabled: false } },
        scales: {
          x: {
            type: "linear", display: false, min: cfg.xMin, max: cfg.xMax,
            afterBuildTicks: (s: any) => { s.ticks = cfg.xTicks.map((v) => ({ value: v })); },
          },
          y: {
            type: "linear", display: false, min: cfg.yMin, max: cfg.yMax,
            afterBuildTicks: (s: any) => { s.ticks = cfg.yTicks.map((v) => ({ value: v })); },
          },
        },
      } as any,
      plugins: [decorPlugin(cfg, stars)],
    } as any);
    return () => chart.destroy();
  }, []);
  return (
    <canvas
      ref={ref}
      width={cfg.w}
      height={cfg.h}
      style={{ position: "absolute", left: cfg.left, top: cfg.top, width: cfg.w, height: cfg.h }}
    />
  );
}

export default function App() {
  return (
    <div style={{ position: "absolute", left: 0, top: 0, width: 1070, height: 608, background: "#fff", overflow: "hidden" }}>
      {panels.map((p, i) => (
        <Panel key={i} cfg={p} idx={i} />
      ))}
    </div>
  );
}
